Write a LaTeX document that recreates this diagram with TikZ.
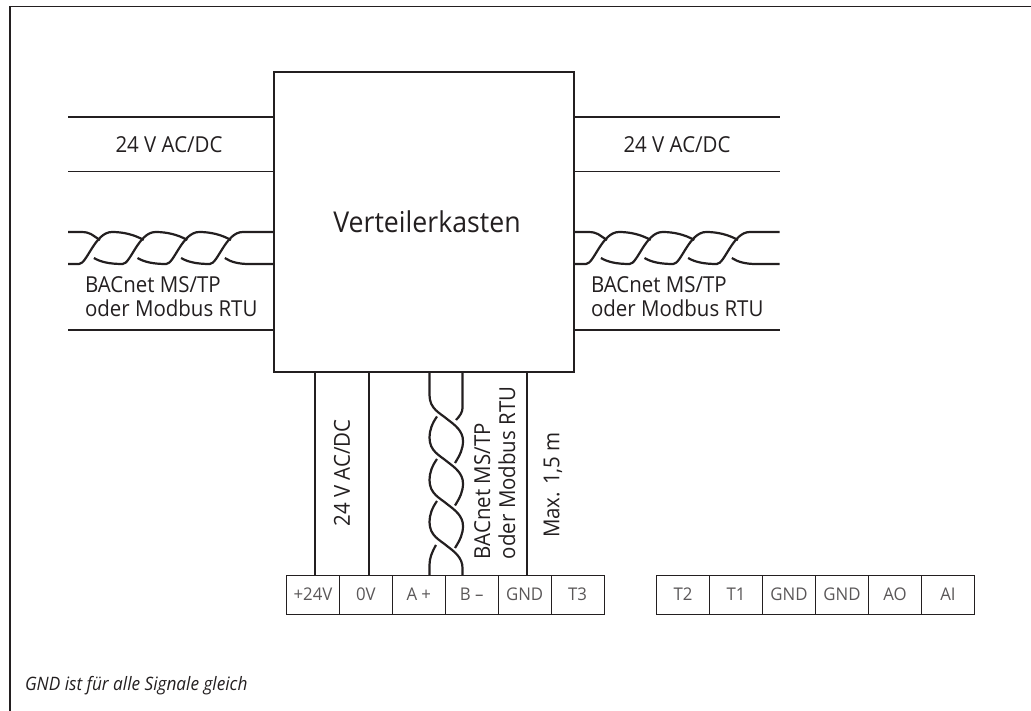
\documentclass[tikz,border=0pt]{standalone}
\usepackage{fontspec}
\setmainfont{Open Sans}[FakeStretch=0.93]
\newfontfamily\termfont{Open Sans}[FakeStretch=0.96]
\definecolor{ink}{HTML}{231F20}
\tikzset{
  wire/.style={draw=ink,line width=1.9pt},
  strand/.style={draw=ink,line width=2.2pt},
  lbl/.style={text=ink,font=\fontsize{22}{24}\selectfont,inner sep=0pt,outer sep=0pt},
  cell/.style={draw=ink,line width=.9pt,minimum width=53pt,minimum height=39pt,inner sep=0pt,outer sep=0pt,text=ink!75,font=\termfont\fontsize{17.5}{18}\selectfont},
}
% one horizontal twist around crossing #1
\newcommand{\hrise}[1]{%
  \draw[strand] ({#1-39.7},258) .. controls ({#1-33},262) and ({#1-24},264) .. ({#1-11},264) .. controls ({#1-3},264) and ({#1+5},232) .. ({#1+22},232) .. controls ({#1+33},232) and ({#1+44},234.5) .. ({#1+53.7},240);
}
% horizontal pair: #1 start x, #2 first crossing, #3 end x
\newcommand{\hpair}[3]{%
  \draw[strand] (#1,232) -- ({#2-10},232) .. controls ({#2+1},232) and ({#2+1},234.5) .. ({#2+10},240);
  \draw[strand] (#1,264) -- ({#2-11},264) .. controls ({#2-3},264) and ({#2+5},232) .. ({#2+22},232) .. controls ({#2+33},232) and ({#2+44},234.5) .. ({#2+53.7},240);
  \hrise{#2+43.6}\hrise{#2+87.2}%
  \draw[strand] ({#2+91.1},258) .. controls ({#2+97.8},262) and ({#2+106.8},264) .. ({#2+119.8},264) .. controls ({#2+127.8},264) and ({#2+135.8},232) .. ({#2+152.8},232) -- (#3,232);
  \draw[strand] ({#2+134.8},258) .. controls ({#2+140.8},262) and ({#2+148.8},264) .. ({#2+158.8},264) -- (#3,264);
}
% one vertical twist around crossing y=#1
\newcommand{\vtwist}[1]{%
  \draw[strand] (437,{#1-45}) .. controls (432,{#1-38}) and (429.5,{#1-31}) .. (429.5,{#1-24}) .. controls (429.5,{#1-10}) and (440,{#1-6}) .. (447,#1) .. controls (455,{#1+6}) and (463,{#1+12}) .. (463,{#1+22}) .. controls (463,{#1+30}) and (460,{#1+36}) .. (455,{#1+44});
}
\begin{document}
\begin{tikzpicture}[x=1pt,y=-1pt]
\useasboundingbox (0,0) rectangle (1031,711);
\draw[wire] (10,711) -- (10,6.5) -- (1031,6.5);
\node[draw=ink,line width=1.9pt,minimum width=300pt,minimum height=300pt,inner sep=0pt,outer sep=0pt] (box) at (424,222) {};
\node[lbl,font=\fontsize{28.7}{30}\selectfont,anchor=base] (title) at (427,233) {Verteilerkasten};
% free wire ends
\coordinate (la) at (68,117); \coordinate (lb) at (68,171.5); \coordinate (lc) at (68,330);
\coordinate (ra) at (779.5,117); \coordinate (rb) at (779.5,171.5); \coordinate (rc) at (779.5,330);
\draw[wire] (la) -- (box.west |- la);
\draw[wire] (lb) -- (box.west |- lb);
\draw[wire] (lc) -- (box.west |- lc);
\draw[wire] (ra) -- (box.east |- ra);
\draw[wire] (rb) -- (box.east |- rb);
\draw[wire] (rc) -- (box.east |- rc);
\node[lbl,anchor=base] (l24) at (169,153) {24 V AC/DC};
\node[lbl,anchor=base] (r24) at (677,153) {24 V AC/DC};
\hpair{68}{90}{273}
\hpair{574}{597}{779.5}
\node[lbl,anchor=base west] (lbac) at (85,293) {BACnet MS/TP};
\node[lbl,anchor=base west] (lmod) at (85,317) {oder Modbus RTU};
\node[lbl,anchor=base west] (rbac) at (591,293) {BACnet MS/TP};
\node[lbl,anchor=base west] (rmod) at (591,317) {oder Modbus RTU};
% terminals
\foreach \n/\t [count=\i from 0] in {p24/+24V,p0/0V,pa/A +,pb/B –,pg/GND,t3/T3}{
  \node[cell] (\n) at ({313+\i*52.9},594.5) {\t};
}
\foreach \n/\t [count=\i from 0] in {t2/T2,t1/T1,g1/GND,g2/GND,ao/AO,ai/AI}{
  \node[cell] (\n) at ({683+\i*53},594.5) {\t};
}
% vertical wires
\coordinate (w24) at (315,575); \coordinate (w0) at (369,575); \coordinate (wg) at (527,575);
\draw[wire] (box.south -| w24) -- (w24);
\draw[wire] (box.south -| w0) -- (w0);
\draw[wire] (box.south -| wg) -- (wg);
% twisted vertical pair
\coordinate (va) at (429.5,575); \coordinate (vb) at (462.5,575);
\draw[strand] (box.south -| va) -- (429.5,395) .. controls (429.5,409) and (440,413) .. (447,419) .. controls (455,425) and (463,431) .. (463,441) .. controls (463,449) and (460,455) .. (455,463);
\draw[strand] (box.south -| vb) -- (462.5,408) .. controls (462.5,412) and (460,416) .. (456,420);
\vtwist{461.5}
\vtwist{504}
\draw[strand] (437,501) .. controls (432,508) and (429.5,515) .. (429.5,522) .. controls (429.5,536) and (440,540) .. (447,546) .. controls (455,552) and (462.5,558) .. (462.5,568) -- (vb);
\draw[strand] (436,545) .. controls (432,552) and (429.5,558) .. (429.5,565) -- (va);
\node[lbl,rotate=90] (v24) at (342,473) {24 V AC/DC};
\node[lbl,rotate=90,anchor=base west] (vbac) at (490,559) {BACnet MS/TP};
\node[lbl,rotate=90,anchor=base west] (vmod) at (515,559) {oder Modbus RTU};
\node[lbl,rotate=90] (vmax) at (553,485) {Max. 1,5 m};
\node[lbl,anchor=base west,font=\itshape\fontsize{18.5}{20}\selectfont] (note) at (25,690) {GND ist für alle Signale gleich};
\end{tikzpicture}
\end{document}
